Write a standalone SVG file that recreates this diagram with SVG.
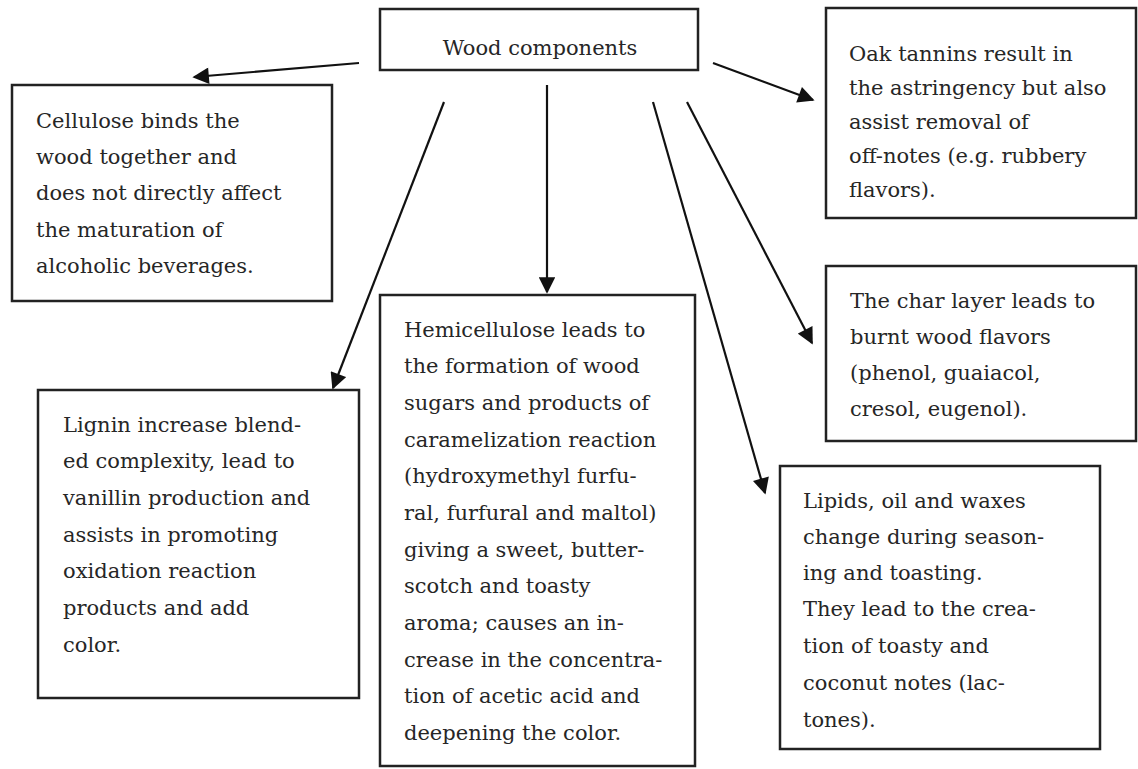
<svg xmlns="http://www.w3.org/2000/svg" width="1138" height="769" viewBox="0 0 1138 769">
<defs>
<style>
.box{fill:#fff;stroke:#222;stroke-width:2.5}
.t{font-family:"DejaVu Serif","Liberation Serif",serif;font-size:21px;fill:#262626}
.c{stroke:#111;stroke-width:2.2;fill:none;marker-end:url(#ah)}
</style>
<marker id="ah" viewBox="0 0 10 10" refX="9" refY="5" markerWidth="8" markerHeight="7.5" markerUnits="strokeWidth" orient="auto">
<path d="M0,0 L10,5 L0,10 z" fill="#111"/>
</marker>
</defs>
<rect width="1138" height="769" fill="#fff"/>
<g id="connectors">
<line class="c" x1="359" y1="63" x2="194" y2="77"/>
<line class="c" x1="444" y1="102" x2="333" y2="388"/>
<line class="c" x1="547" y1="85" x2="547" y2="292"/>
<line class="c" x1="653" y1="102" x2="765" y2="493"/>
<line class="c" x1="687" y1="102" x2="812" y2="343"/>
<line class="c" x1="713" y1="63" x2="813" y2="100"/>
</g>
<g id="wood">
<rect class="box" x="380" y="9" width="318" height="61"/>
<text class="t" x="540" y="55" text-anchor="middle">Wood components</text>
</g>
<g id="cellulose">
<rect class="box" x="12" y="85" width="320" height="216"/>
<text class="t" x="36" y="128">Cellulose binds the</text>
<text class="t" x="36" y="164">wood together and</text>
<text class="t" x="36" y="200">does not directly affect</text>
<text class="t" x="36" y="237">the maturation of</text>
<text class="t" x="36" y="273">alcoholic beverages.</text>
</g>
<g id="oak">
<rect class="box" x="826" y="8" width="310" height="210"/>
<text class="t" x="849" y="61">Oak tannins result in</text>
<text class="t" x="849" y="95">the astringency but also</text>
<text class="t" x="849" y="129">assist removal of</text>
<text class="t" x="849" y="163">off-notes (e.g. rubbery</text>
<text class="t" x="849" y="197">flavors).</text>
</g>
<g id="char">
<rect class="box" x="826" y="266" width="310" height="175"/>
<text class="t" x="850" y="308">The char layer leads to</text>
<text class="t" x="850" y="344">burnt wood flavors</text>
<text class="t" x="850" y="380">(phenol, guaiacol,</text>
<text class="t" x="850" y="416">cresol, eugenol).</text>
</g>
<g id="lignin">
<rect class="box" x="38" y="390" width="321" height="308"/>
<text class="t" x="63" y="432">Lignin increase blend-</text>
<text class="t" x="63" y="468">ed complexity, lead to</text>
<text class="t" x="63" y="505">vanillin production and</text>
<text class="t" x="63" y="542">assists in promoting</text>
<text class="t" x="63" y="578">oxidation reaction</text>
<text class="t" x="63" y="615">products and add</text>
<text class="t" x="63" y="652">color.</text>
</g>
<g id="hemicellulose">
<rect class="box" x="380" y="295" width="315" height="471"/>
<text class="t" x="404" y="337">Hemicellulose leads to</text>
<text class="t" x="404" y="373">the formation of wood</text>
<text class="t" x="404" y="410">sugars and products of</text>
<text class="t" x="404" y="447">caramelization reaction</text>
<text class="t" x="404" y="483">(hydroxymethyl furfu-</text>
<text class="t" x="404" y="520">ral, furfural and maltol)</text>
<text class="t" x="404" y="557">giving a sweet, butter-</text>
<text class="t" x="404" y="593">scotch and toasty</text>
<text class="t" x="404" y="630">aroma; causes an in-</text>
<text class="t" x="404" y="667">crease in the concentra-</text>
<text class="t" x="404" y="703">tion of acetic acid and</text>
<text class="t" x="404" y="740">deepening the color.</text>
</g>
<g id="lipids">
<rect class="box" x="780" y="466" width="320" height="283"/>
<text class="t" x="803" y="508">Lipids, oil and waxes</text>
<text class="t" x="803" y="544">change during season-</text>
<text class="t" x="803" y="580">ing and toasting.</text>
<text class="t" x="803" y="616">They lead to the crea-</text>
<text class="t" x="803" y="653">tion of toasty and</text>
<text class="t" x="803" y="690">coconut notes (lac-</text>
<text class="t" x="803" y="727">tones).</text>
</g>
</svg>
